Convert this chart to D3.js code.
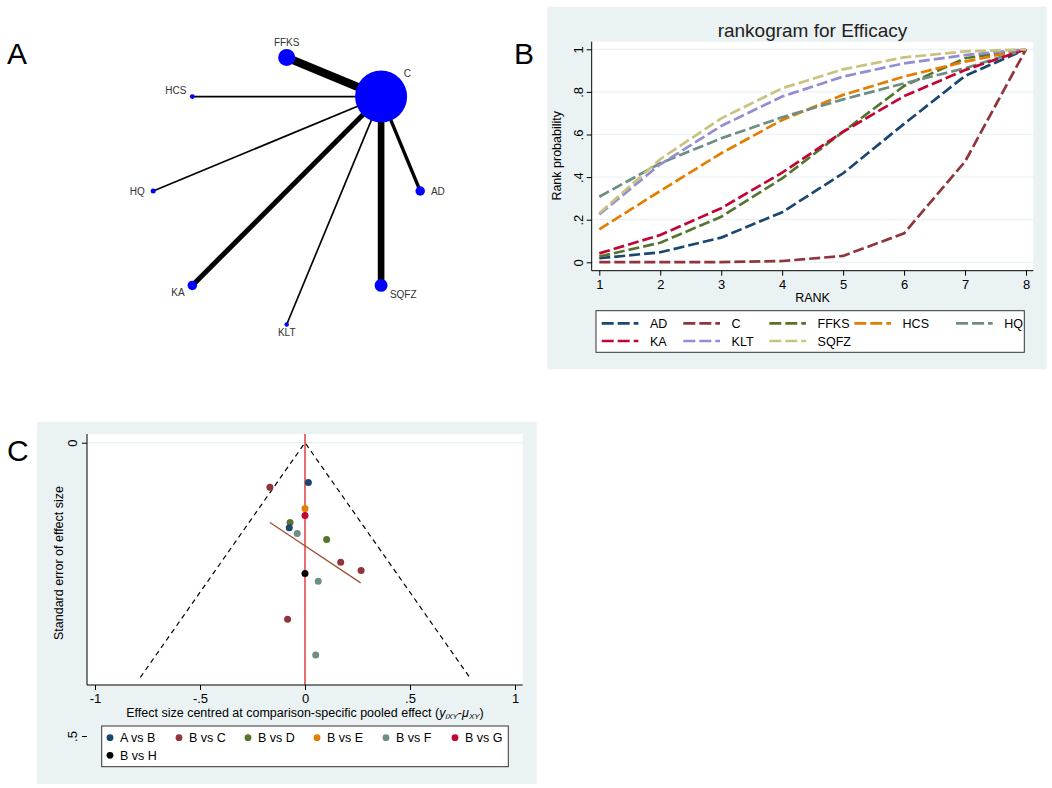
<!DOCTYPE html>
<html>
<head>
<meta charset="utf-8">
<script src="https://cdn.jsdelivr.net/npm/d3@7"></script>
<style>
  body { margin: 0; background: #fff; }
  text { font-family: "Liberation Sans", Arial, sans-serif; }
</style>
</head>
<body>
<div id="chart"></div>
<script>
// ---------- data ----------
// A: network of treatments (circular layout, alphabetical, counter-clockwise from east)
var treatments = ["AD", "C", "FFKS", "HCS", "HQ", "KA", "KLT", "SQFZ"];
var nodeSizes = [90, 2700, 290, 24, 25, 90, 20, 165];
var edgeSource = ["C", "C", "C", "C", "C", "C", "C"];
var edgeTarget = ["AD", "FFKS", "HCS", "HQ", "KA", "KLT", "SQFZ"];
var edgeStudies = [2, 5, 1, 1, 3, 1, 4];

// B: cumulative rank probabilities
var ranks = [1, 2, 3, 4, 5, 6, 7, 8];
var rankNames = ["AD", "C", "FFKS", "HCS", "HQ", "KA", "KLT", "SQFZ"];
var cumAD   = [0.019, 0.047, 0.116, 0.235, 0.418, 0.650, 0.875, 1];
var cumC    = [0.001, 0.001, 0.001, 0.006, 0.030, 0.136, 0.473, 1];
var cumFFKS = [0.027, 0.092, 0.214, 0.394, 0.613, 0.828, 0.958, 1];
var cumHCS  = [0.155, 0.335, 0.512, 0.668, 0.786, 0.872, 0.942, 1];
var cumHQ   = [0.308, 0.465, 0.582, 0.681, 0.765, 0.840, 0.911, 1];
var cumKA   = [0.042, 0.128, 0.254, 0.421, 0.613, 0.780, 0.903, 1];
var cumKLT  = [0.225, 0.460, 0.640, 0.778, 0.872, 0.934, 0.973, 1];
var cumSQFZ = [0.230, 0.484, 0.676, 0.817, 0.906, 0.962, 0.990, 1];
var probTicks = [0, 0.2, 0.4, 0.6, 0.8, 1];

// C: comparison-adjusted funnel plot
var comparisons = ["A vs B", "B vs C", "B vs D", "B vs E", "B vs F", "B vs G", "B vs H"];
var studyComparison = ["A vs B", "B vs C", "B vs E", "B vs G", "B vs D", "A vs B", "B vs F",
                       "B vs D", "B vs C", "B vs C", "B vs H", "B vs F", "B vs C", "B vs F"];
var studyEffect = [0.016, -0.167, 0.000, 0.000, -0.071, -0.075, -0.037,
                   0.103, 0.170, 0.267, 0.000, 0.063, -0.083, 0.051];
var studySE     = [0.068, 0.076, 0.112, 0.124, 0.136, 0.145, 0.155,
                   0.165, 0.204, 0.218, 0.223, 0.236, 0.301, 0.362];
var fitEffect = [-0.167, 0.265];
var fitSE = [0.136, 0.239];
var seMax = 0.4;
var effectTicks = [-1, -0.5, 0, 0.5, 1];
var seTicks = [0, 0.5];

// ---------- setup ----------
var W = 1052, H = 788;
var svg = d3.select("#chart").append("svg")
  .attr("width", W).attr("height", H);

var stataCols = ["#1a476f", "#90353b", "#55752f", "#e37e00", "#6e8e84", "#c10534", "#938dd2", "#cac27e"];
var bgCol = "#eaf2f3";

// stata style numbers: .5 instead of 0.5
function stataNum(d) {
  if (d === 0) return "0";
  return String(d).replace("0.", ".");
}

function letter(x, y, t) {
  svg.append("text").attr("x", x).attr("y", y)
    .attr("font-size", 30).attr("fill", "#000").text(t);
}

// ---------- A: network ----------
var net = svg.append("g");
var ncx = 286.7, ncy = 191, nR = 133.5;
var angle = d3.scalePoint().domain(treatments).range([0, Math.PI * 2 * 7 / 8]);
var rScale = d3.scaleSqrt().domain([0, d3.max(nodeSizes)]).range([0, 26]);
var wScale = d3.scaleLinear().domain([0, d3.max(edgeStudies)]).range([0, 8.3]);

var nodes = treatments.map(function(t, i) {
  var a = angle(t);
  return { name: t, a: a, x: ncx + nR * Math.cos(a), y: ncy - nR * Math.sin(a), r: rScale(nodeSizes[i]) };
});
var byName = {};
nodes.forEach(function(n) { byName[n.name] = n; });

var edges = edgeTarget.map(function(t, i) {
  return { s: byName[edgeSource[i]], t: byName[t], n: edgeStudies[i] };
});

net.selectAll("line.edge").data(edges).enter().append("line")
  .attr("x1", function(d) { return d.s.x; })
  .attr("y1", function(d) { return d.s.y; })
  .attr("x2", function(d) { return d.t.x; })
  .attr("y2", function(d) { return d.t.y; })
  .attr("stroke", "#000")
  .attr("stroke-width", function(d) { return wScale(d.n); });

net.selectAll("circle").data(nodes).enter().append("circle")
  .attr("cx", function(d) { return d.x; })
  .attr("cy", function(d) { return d.y; })
  .attr("r", function(d) { return d.r; })
  .attr("fill", "#0000ff");

net.selectAll("text.lab").data(nodes).enter().append("text")
  .attr("x", function(d) { return d.x + (d.r + 6) * Math.cos(d.a); })
  .attr("y", function(d) { return d.y - (d.r + 6) * Math.sin(d.a); })
  .attr("dy", "0.35em")
  .attr("text-anchor", function(d) {
    var c = Math.cos(d.a);
    return c > 0.3 ? "start" : (c < -0.3 ? "end" : "middle");
  })
  .attr("font-size", 10)
  .attr("fill", "#333")
  .text(function(d) { return d.name; });

letter(7, 63.6, "A");

// ---------- B: rankogram ----------
var gB = svg.append("g");
gB.append("rect").attr("x", 547.3).attr("y", 6.7).attr("width", 499.4).attr("height", 362.6)
  .attr("fill", bgCol);
var pB = { x0: 591.7, y0: 41.7, x1: 1033.3, y1: 270.7 };
gB.append("rect").attr("x", pB.x0).attr("y", pB.y0)
  .attr("width", pB.x1 - pB.x0).attr("height", pB.y1 - pB.y0).attr("fill", "#fff");

var bx = d3.scaleLinear().domain([1, 8]).range([599.3, 1026]);
var by = d3.scaleLinear().domain([0, 1]).range([262.3, 49.3]);

gB.selectAll("line.grid").data(probTicks).enter().append("line")
  .attr("x1", pB.x0).attr("x2", pB.x1)
  .attr("y1", function(d) { return by(d); }).attr("y2", function(d) { return by(d); })
  .attr("stroke", bgCol).attr("stroke-width", 1.2);

var series = [cumAD, cumC, cumFFKS, cumHCS, cumHQ, cumKA, cumKLT, cumSQFZ];
var lineB = d3.line().x(function(d, i) { return bx(ranks[i]); }).y(function(d) { return by(d); });
gB.selectAll("path.rank").data(series).enter().append("path")
  .attr("d", lineB)
  .attr("fill", "none")
  .attr("stroke", function(d, i) { return stataCols[i]; })
  .attr("stroke-width", 2.7)
  .attr("stroke-dasharray", "11,4");

// axes
var axL = gB.append("g").attr("transform", "translate(" + pB.x0 + ",0)")
  .call(d3.axisLeft(by).tickValues(probTicks).tickSize(5).tickSizeOuter(0).tickFormat(stataNum));
axL.select(".domain").remove();
axL.selectAll("text").attr("x", null).attr("dy", null)
  .attr("text-anchor", "middle").attr("transform", "translate(-9,0) rotate(-90)")
  .attr("font-size", 13).attr("font-family", "Liberation Sans, Arial, sans-serif").attr("fill", "#000");
var axB = gB.append("g").attr("transform", "translate(0," + pB.y1 + ")")
  .call(d3.axisBottom(bx).tickValues(ranks).tickSize(5).tickSizeOuter(0).tickPadding(4)
    .tickFormat(d3.format("d")));
axB.select(".domain").remove();
axB.selectAll("text").attr("font-size", 13).attr("font-family", "Liberation Sans, Arial, sans-serif").attr("fill", "#000");
gB.selectAll(".tick line").attr("stroke", "#000");
gB.append("line").attr("x1", pB.x0).attr("x2", pB.x0).attr("y1", pB.y0).attr("y2", pB.y1).attr("stroke", "#000");
gB.append("line").attr("x1", pB.x0).attr("x2", pB.x1).attr("y1", pB.y1).attr("y2", pB.y1).attr("stroke", "#000");

gB.append("text").attr("x", 812.5).attr("y", 36.7).attr("text-anchor", "middle")
  .attr("font-size", 19).attr("fill", "#222").text("rankogram for Efficacy");
gB.append("text").attr("transform", "translate(561," + by(0.5) + ") rotate(-90)")
  .attr("text-anchor", "middle").attr("font-size", 12.5).attr("fill", "#000").text("Rank probability");
gB.append("text").attr("x", 812.5).attr("y", 302.3).attr("text-anchor", "middle")
  .attr("font-size", 12.5).attr("fill", "#000").text("RANK");

// legend
var legB = gB.append("g").attr("transform", "translate(596,310.7)");
legB.append("rect").attr("width", 428.3).attr("height", 41.6)
  .attr("fill", "#fff").attr("stroke", "#333").attr("stroke-width", 1);
var colOffB = [5.7, 87.3, 173.3, 258.3, 360];
var items = legB.selectAll("g.item").data(rankNames).enter().append("g")
  .attr("transform", function(d, i) {
    return "translate(" + colOffB[i % 5] + "," + (i < 5 ? 12.6 : 30.3) + ")";
  });
items.append("line").attr("x1", 0).attr("x2", 36.7).attr("y1", 0).attr("y2", 0)
  .attr("stroke", function(d, i) { return stataCols[i]; })
  .attr("stroke-width", 2.7).attr("stroke-dasharray", "12,4");
items.append("text").attr("x", 48.3).attr("y", 4.5)
  .attr("font-size", 12.5).attr("fill", "#000").text(function(d) { return d; });

letter(514, 63.6, "B");

// ---------- C: funnel plot ----------
var gC = svg.append("g");
gC.append("rect").attr("x", 37).attr("y", 422).attr("width", 499.7).attr("height", 362)
  .attr("fill", bgCol);
var pC = { x0: 87, y0: 434, x1: 522.7, y1: 685 };
gC.append("rect").attr("x", pC.x0).attr("y", pC.y0)
  .attr("width", pC.x1 - pC.x0).attr("height", pC.y1 - pC.y0).attr("fill", "#fff");

var cx = d3.scaleLinear().domain([-1, 1]).range([95, 515]);
var cy = d3.scaleLinear().domain([0, 0.5]).range([442.7, 736]);

gC.append("line").attr("x1", pC.x0).attr("x2", pC.x1).attr("y1", cy(0)).attr("y2", cy(0))
  .attr("stroke", bgCol).attr("stroke-width", 1.2);

// funnel limits
var z = 1.96;
var funnel = [[-z * seMax, seMax], [0, 0], [z * seMax, seMax]];
gC.append("path")
  .attr("d", d3.line().x(function(d) { return cx(d[0]); }).y(function(d) { return cy(d[1]); })(funnel))
  .attr("fill", "none").attr("stroke", "#000").attr("stroke-width", 1.2)
  .attr("stroke-dasharray", "5,4");

// null line
gC.append("line").attr("x1", cx(0)).attr("x2", cx(0)).attr("y1", pC.y0).attr("y2", pC.y1)
  .attr("stroke", "#e04040").attr("stroke-width", 1.5);

// fitted line
gC.append("path")
  .attr("d", d3.line().x(function(d) { return cx(d); }).y(function(d, i) { return cy(fitSE[i]); })(fitEffect))
  .attr("fill", "none").attr("stroke", "#a0522d").attr("stroke-width", 1.3);

var compCols = ["#1a476f", "#90353b", "#55752f", "#e37e00", "#6e8e84", "#c10534", "#000000"];
var compColor = d3.scaleOrdinal().domain(comparisons).range(compCols);
gC.selectAll("circle.pt").data(studyEffect).enter().append("circle")
  .attr("cx", function(d) { return cx(d); })
  .attr("cy", function(d, i) { return cy(studySE[i]); })
  .attr("r", 3.5)
  .attr("fill", function(d, i) { return compColor(studyComparison[i]); });

// axes
var axCL = gC.append("g").attr("transform", "translate(" + pC.x0 + ",0)")
  .call(d3.axisLeft(cy).tickValues(seTicks).tickSize(5).tickSizeOuter(0).tickFormat(stataNum));
axCL.select(".domain").remove();
axCL.selectAll("text").attr("x", null).attr("dy", null)
  .attr("text-anchor", "middle").attr("transform", "translate(-10,0) rotate(-90)")
  .attr("font-size", 13).attr("font-family", "Liberation Sans, Arial, sans-serif").attr("fill", "#000");
var axCB = gC.append("g").attr("transform", "translate(0," + pC.y1 + ")")
  .call(d3.axisBottom(cx).tickValues(effectTicks).tickSize(5).tickSizeOuter(0).tickPadding(4).tickFormat(stataNum));
axCB.select(".domain").remove();
axCB.selectAll("text").attr("font-size", 13).attr("font-family", "Liberation Sans, Arial, sans-serif").attr("fill", "#000");
gC.selectAll(".tick line").attr("stroke", "#000");
gC.append("line").attr("x1", pC.x0).attr("x2", pC.x0).attr("y1", pC.y0).attr("y2", pC.y1).attr("stroke", "#000");
gC.append("line").attr("x1", pC.x0).attr("x2", pC.x1).attr("y1", pC.y1).attr("y2", pC.y1).attr("stroke", "#000");

gC.append("text").attr("transform", "translate(63,563) rotate(-90)")
  .attr("text-anchor", "middle").attr("font-size", 12.5).attr("fill", "#000")
  .text("Standard error of effect size");
var xt = gC.append("text").attr("x", cx(0)).attr("y", 716.5).attr("text-anchor", "middle")
  .attr("font-size", 12.5).attr("fill", "#000");
xt.append("tspan").text("Effect size centred at comparison-specific pooled effect (");
xt.append("tspan").attr("font-style", "italic").text("y");
xt.append("tspan").attr("font-style", "italic").attr("font-size", 8).attr("baseline-shift", "-25%").text("iXY");
xt.append("tspan").text("-");
xt.append("tspan").attr("font-style", "italic").text("\u03bc");
xt.append("tspan").attr("font-style", "italic").attr("font-size", 8).attr("baseline-shift", "-25%").text("XY");
xt.append("tspan").text(")");

// legend
var legC = gC.append("g").attr("transform", "translate(101.7,726)");
legC.append("rect").attr("width", 406.6).attr("height", 40.7)
  .attr("fill", "#fff").attr("stroke", "#333").attr("stroke-width", 1);
var itC = legC.selectAll("g.item").data(comparisons).enter().append("g")
  .attr("transform", function(d, i) {
    return "translate(" + (8.3 + (i % 6) * 69) + "," + (i < 6 ? 11.7 : 29.3) + ")";
  });
itC.append("circle").attr("r", 3.4).attr("fill", function(d) { return compColor(d); });
itC.append("text").attr("x", 10).attr("y", 4.5)
  .attr("font-size", 12.5).attr("fill", "#000").text(function(d) { return d; });

letter(7, 460.5, "C");
</script>
</body>
</html>
